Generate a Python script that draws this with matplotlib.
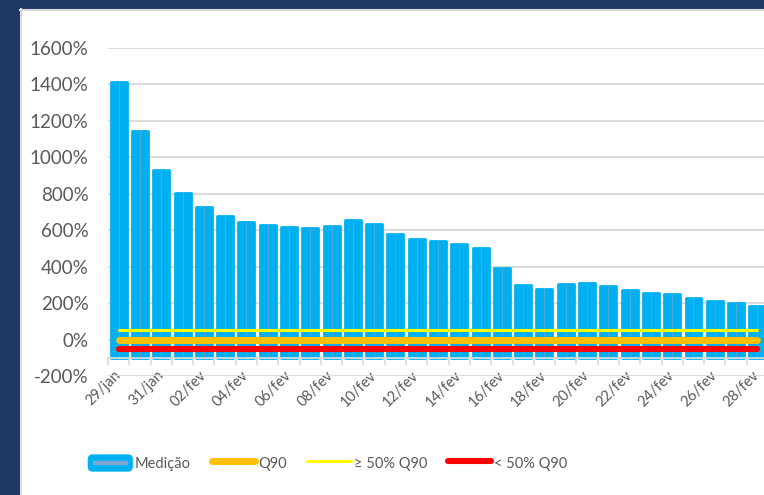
import numpy as np
import matplotlib
matplotlib.use("Agg")
import matplotlib.pyplot as plt
from matplotlib.patches import Rectangle, FancyBboxPatch
from matplotlib.lines import Line2D
from matplotlib.legend_handler import HandlerBase

plt.rcParams['font.family'] = ['Lato', 'DejaVu Sans']

dates = ['29/jan', '30/jan', '31/jan'] + ['%02d/fev' % d for d in range(1, 29)]
medicao = [1414, 1145, 932, 806, 729, 679, 646, 626, 617, 611, 622, 655, 632,
           578, 553, 540, 522, 505, 395, 300, 280, 305, 312, 294, 272, 257,
           250, 228, 212, 201, 186]
q90 = [0] * len(dates)
acima_50 = [50] * len(dates)
abaixo_50 = [-50] * len(dates)
base = -100

navy = '#1F3864'
blue = '#00B0F0'
inner = '#7FA7CF'
grey_txt = '#595959'
grid_c = '#D9D9D9'


class HandlerMedicao(HandlerBase):
    # rounded blue box with a short grey-blue stroke inside, like the Excel key
    def create_artists(self, legend, orig_handle, xdescent, ydescent, width,
                       height, fontsize, trans):
        x0, y0 = -xdescent, -ydescent
        box = FancyBboxPatch((x0, y0), width, height,
                             boxstyle='round,pad=0,rounding_size=3',
                             fc=blue, ec=blue, transform=trans)
        ln = Line2D([x0 + width * 0.15, x0 + width * 0.85], [y0 + height / 2] * 2,
                    color=inner, lw=3, transform=trans)
        return [box, ln]


fig = plt.figure(figsize=(7.64, 4.95), dpi=100)
fig.patch.set_facecolor(navy)
# white panel, bordered only on its top and left
fig.add_artist(Rectangle((20 / 764, -1), 2, 2 - 9 / 495, transform=fig.transFigure,
                         facecolor='white', edgecolor='none', zorder=0))
fig.add_artist(Line2D([20 / 764, 1.0], [1 - 9.5 / 495] * 2, transform=fig.transFigure,
                      color=grid_c, lw=1.5, zorder=0.5))
fig.add_artist(Line2D([20.5 / 764] * 2, [0, 1 - 9 / 495], transform=fig.transFigure,
                      color=grid_c, lw=1.5, zorder=0.5))

ax = fig.add_axes([108 / 764, 1 - 376 / 495, 660 / 764, 328 / 495])
ax.set_facecolor('none')

x = np.arange(len(dates))
heights = np.array(medicao) - base
bars = ax.bar(x, heights, bottom=base, width=0.75, color=blue, edgecolor=blue,
              linewidth=2, joinstyle='round', zorder=2)
# faint centre stroke inside each bar
for xi, v in zip(x, medicao):
    ax.plot([xi, xi], [base, v], color=inner, lw=0.7, alpha=0.6, zorder=2.5)

l_q90, = ax.plot(x, q90, color='#FFC000', lw=5, solid_capstyle='round', zorder=3)
l_ac, = ax.plot(x, acima_50, color='#FFFF00', lw=2.2, solid_capstyle='round', zorder=3)
l_ab, = ax.plot(x, abaixo_50, color='#FF0000', lw=4.4, solid_capstyle='round', zorder=3)

ax.set_xlim(-0.5, len(dates) - 0.5)
ax.set_ylim(-200, 1600)
ax.set_yticks(np.arange(-200, 1601, 200))
ax.set_yticklabels(['%d%%' % v for v in range(-200, 1601, 200)])
ax.grid(axis='y', color=grid_c, lw=1.3, zorder=0)
ax.set_axisbelow(True)

for s in ['left', 'right', 'top']:
    ax.spines[s].set_visible(False)
ax.spines['bottom'].set_position(('data', base))
ax.spines['bottom'].set_color(grid_c)
ax.spines['bottom'].set_linewidth(1.3)
ax.spines['bottom'].set_zorder(4)

ax.set_xticks(x[::2])
ax.set_xticklabels(dates[::2], rotation=45, ha='right', rotation_mode='anchor',
                   va='center')
ax.set_xticks(np.arange(-0.5, len(dates), 1), minor=True)
ax.tick_params(axis='x', which='major', length=0, pad=11, labelsize=10.5,
               labelcolor=grey_txt)
ax.tick_params(axis='x', which='minor', length=5, color=grid_c, width=1.2)
ax.tick_params(axis='y', length=0, pad=14, labelsize=13.5, labelcolor=grey_txt)

handles = [bars, l_q90, l_ac, l_ab]
labels = ['Medição', 'Q90', '≥ 50% Q90', '< 50% Q90']
fig.legend(handles, labels, loc='center', bbox_to_anchor=(328 / 764, 1 - 463 / 495),
           ncol=4, frameon=False, fontsize=10.5, labelcolor=grey_txt,
           handlelength=3.0, handleheight=1.3, handletextpad=0.2,
           columnspacing=1.4,
           handler_map={type(bars): HandlerMedicao()})

fig.savefig('out.png', dpi=100)
